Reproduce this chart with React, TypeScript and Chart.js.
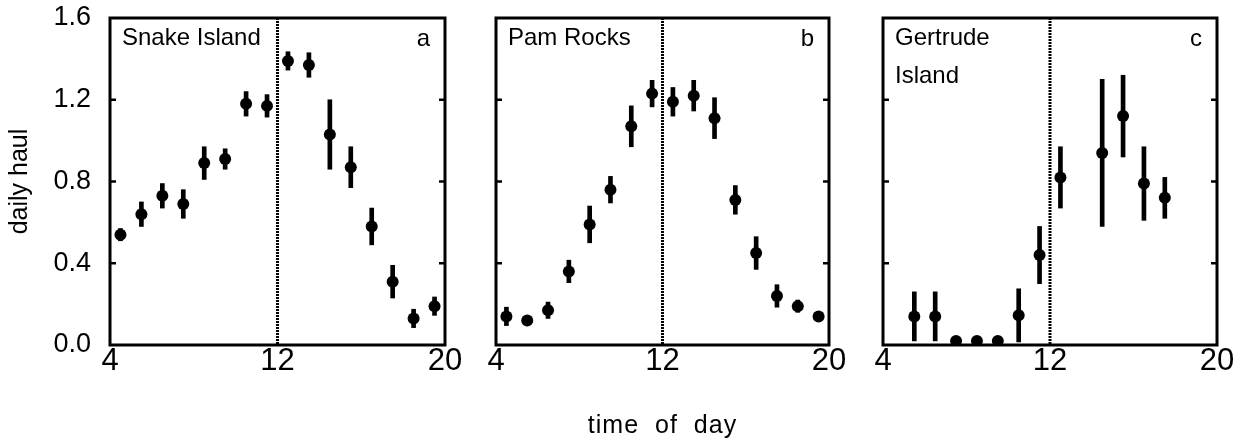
import React, { useEffect, useRef } from "react";
import { Chart, registerables } from "chart.js";

Chart.register(...registerables);

const FONT = '"Liberation Sans", Arial, Helvetica, sans-serif';

// hour of day (bin centres)
const hoursAB = [4.5, 5.5, 6.5, 7.5, 8.5, 9.5, 10.5, 11.5, 12.5, 13.5, 14.5, 15.5, 16.5, 17.5, 18.5, 19.5];
const hoursC = [5.5, 6.5, 7.5, 8.5, 9.5, 10.5, 11.5, 12.5, 14.5, 15.5, 16.5, 17.5];

// Snake Island
const haulA = [0.54, 0.64, 0.73, 0.69, 0.89, 0.91, 1.18, 1.17, 1.39, 1.37, 1.03, 0.87, 0.58, 0.31, 0.13, 0.19];
const errA = [0.03, 0.06, 0.06, 0.07, 0.08, 0.05, 0.06, 0.055, 0.045, 0.06, 0.17, 0.1, 0.09, 0.08, 0.045, 0.045];

// Pam Rocks
const haulB = [0.14, 0.12, 0.17, 0.36, 0.59, 0.76, 1.07, 1.23, 1.19, 1.22, 1.11, 0.71, 0.45, 0.24, 0.19, 0.14];
const errB = [0.045, 0.02, 0.04, 0.055, 0.09, 0.065, 0.1, 0.065, 0.07, 0.075, 0.1, 0.07, 0.08, 0.055, 0.03, 0.02];

// Gertrude Island
const haulC = [0.14, 0.14, 0.02, 0.02, 0.02, 0.145, 0.44, 0.82, 0.94, 1.12, 0.79, 0.72];
const errC = [0.12, 0.12, 0, 0, 0, 0.13, 0.14, 0.15, 0.36, 0.2, 0.18, 0.1];

const xTicks = [4, 12, 20];
const yTicks = [0, 0.4, 0.8, 1.2, 1.6];
const noonHour = 12;
const yTitle = "daily haul";
const xTitle = "time of day";

type Panel = {
  key: string;
  left: number;
  width: number;
  padLeft: number;
  padRight: number;
  axisWidth: number;
  showY: boolean;
  showXTitle: boolean;
  hours: number[];
  haul: number[];
  err: number[];
  names: string[];
  letter: string;
};

const panels: Panel[] = [
  { key: "a", left: 0, width: 470, padLeft: 0, padRight: 25, axisWidth: 110, showY: true, showXTitle: false, hours: hoursAB, haul: haulA, err: errA, names: ["Snake Island"], letter: "a" },
  { key: "b", left: 470, width: 380, padLeft: 26, padRight: 21, axisWidth: 0, showY: false, showXTitle: true, hours: hoursAB, haul: haulB, err: errB, names: ["Pam Rocks"], letter: "b" },
  { key: "c", left: 850, width: 397, padLeft: 33, padRight: 30, axisWidth: 0, showY: false, showXTitle: false, hours: hoursC, haul: haulC, err: errC, names: ["Gertrude", "Island"], letter: "c" },
];

const framePlugin = (p: Panel) => ({
  id: "frame" + p.key,
  afterDraw(chart: any) {
    const { ctx, chartArea, scales } = chart;
    const { left, right, top, bottom } = chartArea;
    const x = scales.x;
    const y = scales.y;
    ctx.save();
    ctx.strokeStyle = "#000";
    ctx.lineWidth = 3;
    ctx.strokeRect(left, top, right - left, bottom - top);
    ctx.lineWidth = 2.5;
    yTicks.forEach((v) => {
      if (v <= 0 || v >= 1.6) return;
      const py = y.getPixelForValue(v);
      ctx.beginPath();
      ctx.moveTo(left, py);
      ctx.lineTo(left + 6, py);
      ctx.moveTo(right, py);
      ctx.lineTo(right - 6, py);
      ctx.stroke();
    });
    const px = x.getPixelForValue(noonHour);
    ctx.setLineDash([2, 1]);
    ctx.lineWidth = 3;
    ctx.beginPath();
    ctx.moveTo(px, top);
    ctx.lineTo(px, bottom);
    ctx.stroke();
    ctx.setLineDash([]);

    ctx.fillStyle = "#000";
    ctx.font = `24px ${FONT}`;
    ctx.textBaseline = "alphabetic";
    ctx.textAlign = "left";
    p.names.forEach((n, i) => ctx.fillText(n, left + 12, top + 27 + i * 38));
    ctx.textAlign = "right";
    ctx.fillText(p.letter, right - 15, top + 28);

    if (p.showXTitle) {
      ctx.textAlign = "center";
      ctx.font = `25px ${FONT}`;
      try {
        (ctx as any).letterSpacing = "1px";
        (ctx as any).wordSpacing = "8px";
      } catch (e) {}
      ctx.fillText(xTitle, (left + right) / 2, 433);
    }
    ctx.restore();
  },
});

function PanelChart({ p }: { p: Panel }) {
  const ref = useRef<HTMLCanvasElement | null>(null);
  useEffect(() => {
    if (!ref.current) return;
    const chart = new Chart(ref.current, {
      type: "scatter",
      data: {
        datasets: [
          {
            type: "scatter",
            data: p.hours.map((h, i) => ({ x: h, y: p.haul[i] })),
            pointRadius: 6,
            pointBackgroundColor: "#000",
            pointBorderWidth: 0,
            borderColor: "#000",
            backgroundColor: "#000",
          } as any,
          {
            type: "bar",
            data: p.hours.map((h, i) => ({ x: h, y: [p.haul[i] - p.err[i], p.haul[i] + p.err[i]] })),
            backgroundColor: "#000",
            barThickness: 4,
            borderWidth: 0,
          } as any,
        ],
      },
      options: {
        responsive: false,
        animation: false,
        devicePixelRatio: 1,
        layout: { padding: { top: 18, left: p.padLeft, right: p.padRight, bottom: 0 } },
        plugins: { legend: { display: false }, tooltip: { enabled: false } },
        scales: {
          x: {
            type: "linear",
            min: 4,
            max: 20,
            offset: false,
            afterBuildTicks: (s: any) => {
              s.ticks = xTicks.map((v) => ({ value: v }));
            },
            grid: { display: false },
            border: { display: false },
            ticks: {
              font: { size: 31, family: FONT, lineHeight: 0.85 },
              color: "#000",
              padding: -5,
              maxRotation: 0,
              autoSkip: false,
              callback: (v: any) => String(v),
            },
            afterFit: (s: any) => {
              s.height = 97;
              s.paddingLeft = 0;
              s.paddingRight = 0;
            },
          },
          y: {
            type: "linear",
            min: 0,
            max: 1.6,
            display: p.showY,
            afterBuildTicks: (s: any) => {
              s.ticks = yTicks.map((v) => ({ value: v }));
            },
            grid: { display: false },
            border: { display: false },
            ticks: {
              font: { size: 27, family: FONT },
              color: "#000",
              padding: 11,
              callback: (v: any) => Number(v).toFixed(1),
            },
            title: {
              display: true,
              text: yTitle,
              color: "#000",
              font: { size: 25, family: FONT },
              padding: { top: 5, bottom: 0 },
            },
            afterFit: (s: any) => {
              s.width = p.axisWidth;
              s.paddingTop = 0;
              s.paddingBottom = 0;
            },
          },
        },
      } as any,
      plugins: [framePlugin(p)],
    });
    return () => chart.destroy();
  }, [p]);
  return (
    <canvas
      ref={ref}
      width={p.width}
      height={442}
      style={{ position: "absolute", left: p.left, top: 0, width: p.width, height: 442 }}
    />
  );
}

export default function App() {
  useEffect(() => {
    document.body.style.margin = "0";
    document.body.style.background = "#fff";
  }, []);
  return (
    <div style={{ position: "relative", width: 1247, height: 442, background: "#fff", overflow: "hidden" }}>
      {panels.map((p) => (
        <PanelChart key={p.key} p={p} />
      ))}
    </div>
  );
}
